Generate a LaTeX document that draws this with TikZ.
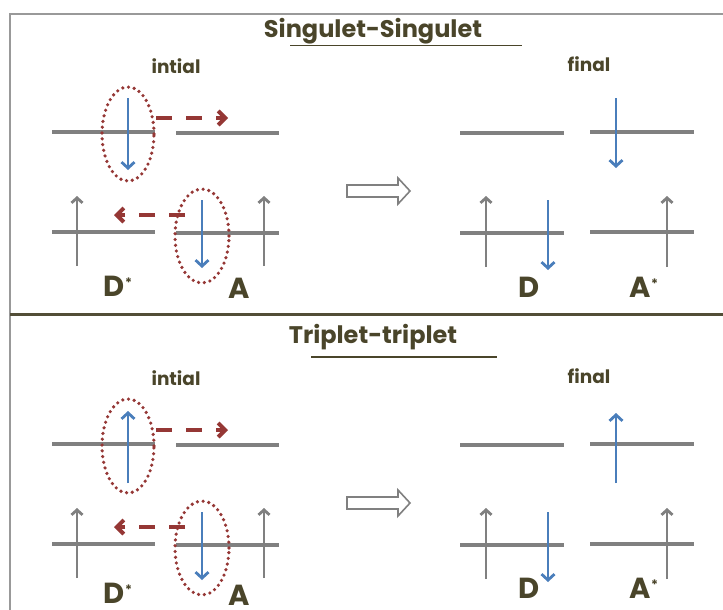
\documentclass[tikz,border=0pt]{standalone}
\usepackage{fontspec}
\setmainfont{Poppins}
\usetikzlibrary{arrows.meta,shapes.geometric}
\definecolor{txt}{HTML}{4A452A}
\definecolor{lvl}{HTML}{808080}
\definecolor{spin}{HTML}{4A7EBB}
\definecolor{dred}{HTML}{953735}
\tikzset{
  level/.style={draw=lvl, line width=4.2pt},
  greyarrow/.style={draw=lvl, line width=2.8pt, -{Straight Barb[length=5pt,width=11pt]}},
  bluearrow/.style={draw=spin, line width=2.8pt, -{Straight Barb[length=6pt,width=13pt]}},
  transfer/.style={draw=dred, line width=4pt, dash pattern=on 16pt off 14pt, -{Straight Barb[length=7pt,width=14pt]}},
  pairring/.style={draw=dred, line width=3.6pt, line cap=round, dash pattern=on 0pt off 5.8pt},
  bigtxt/.style={text=txt, font=\bfseries\fontsize{29}{31}\selectfont, inner sep=0pt, anchor=base},
  smalltxt/.style={text=txt, font=\bfseries\fontsize{18.5}{21}\selectfont, inner sep=0pt},
  titletxt/.style={text=txt, font=\bfseries\fontsize{24}{28}\selectfont, inner sep=0pt},
  hollow/.style={draw=lvl, line width=1.6pt, fill=white},
}
\newcommand{\starlabel}[1]{#1\raisebox{0.3em}{\fontsize{13}{13}\selectfont*}}
% #1 prefix, #2 y offset, #3 1 = singlet (down) / 0 = triplet (up), #4 left label baseline, #5 right label baseline
\newcommand{\energypanel}[5]{%
  \begin{scope}[yshift=-#2pt]
    \coordinate (#1DuL) at (52,132);  \coordinate (#1DuR) at (155,132);
    \coordinate (#1AuL) at (176,133); \coordinate (#1AuR) at (279,133);
    \coordinate (#1DlL) at (52,232);  \coordinate (#1DlR) at (155,232);
    \coordinate (#1AlL) at (176,233); \coordinate (#1AlR) at (279,233);
    \draw[level] (#1DuL) -- (#1DuR);
    \draw[level] (#1AuL) -- (#1AuR);
    \draw[level] (#1DlL) -- (#1DlR);
    \draw[level] (#1AlL) -- (#1AlR);
    \coordinate (#1g1a) at (77,266);  \coordinate (#1g1b) at (77,196);
    \coordinate (#1g2a) at (264,266); \coordinate (#1g2b) at (264,196);
    \draw[greyarrow] (#1g1a) -- (#1g1b);
    \draw[greyarrow] (#1g2a) -- (#1g2b);
    \ifnum#3=1
      \coordinate (#1b1a) at (128,98); \coordinate (#1b1b) at (128,170);
    \else
      \coordinate (#1b1a) at (128,171); \coordinate (#1b1b) at (128,99);
    \fi
    \draw[bluearrow] (#1b1a) -- (#1b1b);
    \coordinate (#1b2a) at (202,200); \coordinate (#1b2b) at (202,268);
    \draw[bluearrow] (#1b2a) -- (#1b2b);
    \node[pairring, ellipse, minimum width=52pt, minimum height=94pt, inner sep=0pt] (#1ring1) at (128,134) {};
    \node[pairring, ellipse, minimum width=54pt, minimum height=94pt, inner sep=0pt] (#1ring2) at (202,236) {};
    \coordinate (#1t1a) at (156,118); \coordinate (#1t1b) at (228,118);
    \coordinate (#1t2a) at (185,215); \coordinate (#1t2b) at (114,215);
    \draw[transfer] (#1t1a) -- (#1t1b);
    \draw[transfer] (#1t2a) -- (#1t2b);
    \node[smalltxt] (#1ini) at (176,66) {intial};
    \node[smalltxt] (#1fin) at (589,64) {final};
    \node[bigtxt] (#1Dstar) at (118,#4) {\starlabel{D}};
    \node[bigtxt] (#1A) at (239,#4+2) {A};
    \filldraw[hollow] (347,185) -- (398,185) -- (398,178) -- (410,191) -- (398,204) -- (398,197) -- (347,197) -- cycle;
    \coordinate (#1FDuL) at (460,133); \coordinate (#1FDuR) at (564,133);
    \coordinate (#1FAuL) at (590,132); \coordinate (#1FAuR) at (694,132);
    \coordinate (#1FDlL) at (460,233); \coordinate (#1FDlR) at (564,233);
    \coordinate (#1FAlL) at (590,232); \coordinate (#1FAlR) at (694,232);
    \draw[level] (#1FDuL) -- (#1FDuR);
    \draw[level] (#1FAuL) -- (#1FAuR);
    \draw[level] (#1FDlL) -- (#1FDlR);
    \draw[level] (#1FAlL) -- (#1FAlR);
    \coordinate (#1fg1a) at (486,267); \coordinate (#1fg1b) at (486,196);
    \coordinate (#1fg2a) at (667,267); \coordinate (#1fg2b) at (667,196);
    \draw[greyarrow] (#1fg1a) -- (#1fg1b);
    \draw[greyarrow] (#1fg2a) -- (#1fg2b);
    \ifnum#3=1
      \coordinate (#1fb1a) at (616,98); \coordinate (#1fb1b) at (616,168);
    \else
      \coordinate (#1fb1a) at (616,171); \coordinate (#1fb1b) at (616,101);
    \fi
    \draw[bluearrow] (#1fb1a) -- (#1fb1b);
    \coordinate (#1fb2a) at (548,200); \coordinate (#1fb2b) at (548,270);
    \draw[bluearrow] (#1fb2a) -- (#1fb2b);
    \node[bigtxt] (#1D) at (529,#5) {D};
    \node[bigtxt] (#1Astar) at (644,#5) {\starlabel{A}};
  \end{scope}}
\begin{document}
\begin{tikzpicture}[x=1pt, y=-1pt]
  \useasboundingbox (0,0) rectangle (723,610);
  \fill[white] (0,0) rectangle (723,610);
  \coordinate (fTL) at (10,14); \coordinate (fTR) at (723,14);
  \coordinate (fBL) at (10,610);
  \coordinate (divL) at (10,314.5); \coordinate (divR) at (723,314.5);
  \draw[draw=lvl!80, line width=1.5pt] (fTR) -- (fTL) -- (fBL);
  \draw[draw=txt!85!gray, line width=2.5pt] (divL) -- (divR);
  \node[titletxt] (t1) at (373,31) {Singulet-Singulet};
  \coordinate (u1a) at (290,45.5); \coordinate (u1b) at (522,45.5);
  \draw[draw=txt, line width=1.3pt] (u1a) -- (u1b);
  \node[titletxt] (t2) at (373,337) {Triplet-triplet};
  \coordinate (u2a) at (311,357); \coordinate (u2b) at (497,357);
  \draw[draw=txt, line width=1.3pt] (u2a) -- (u2b);
  \energypanel{s}{0}{1}{296}{297}
  \energypanel{t}{312}{0}{291}{286}
\end{tikzpicture}
\end{document}
